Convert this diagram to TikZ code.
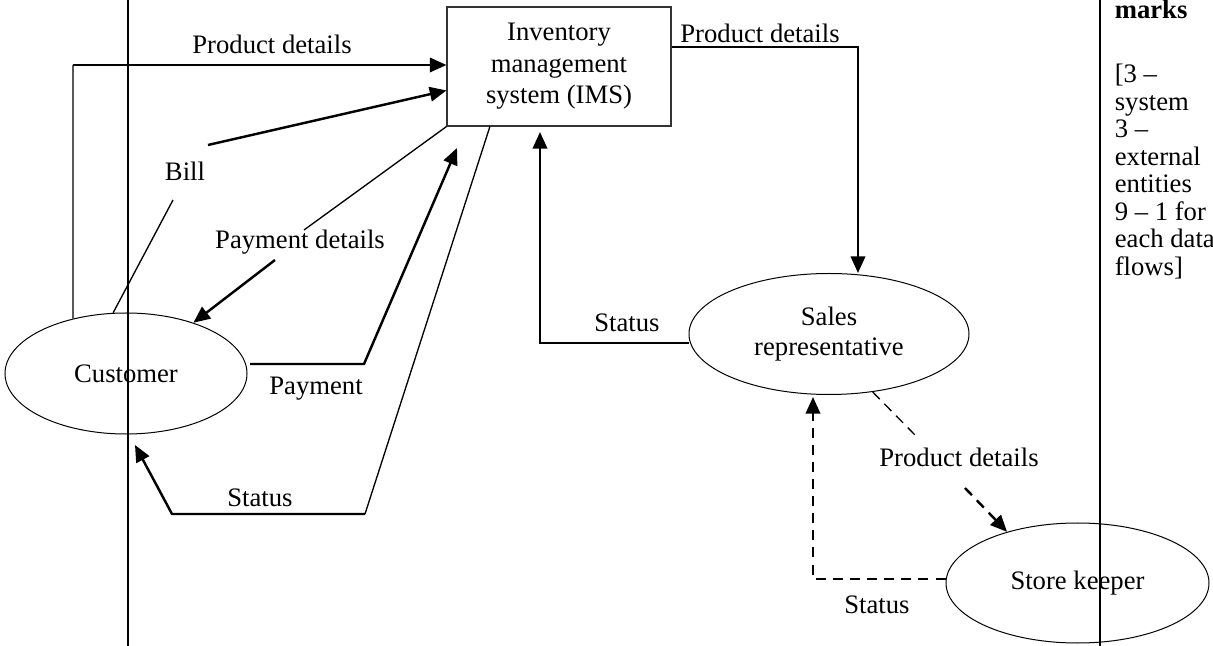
\documentclass[tikz,border=0pt]{standalone}
\usepackage{fontspec}
\setmainfont{Liberation Serif}
\usetikzlibrary{shapes,arrows.meta,positioning}

\begin{document}
\begin{tikzpicture}[x=0.45pt,y=-0.45pt]

  \tikzset{main node/.style={rectangle, draw=black!80, line width=0.5pt,
  		text centered, align=center, minimum width=100.8pt,
  		minimum height=53.55pt, inner sep=0pt}, }
  \tikzset{main ent/.style={ellipse, draw, line width=0.45pt, align=center,
  		inner sep=0pt, minimum height=54.45pt}, }
  \tikzset{linea/.style={line width=0.6pt}, }
  \tikzset{lineb/.style={line width=1.1pt, -{Triangle[length=7.5pt,width=6.5pt]}}, }
  \tikzset{dasha/.style={linea, dash pattern=on 4.5pt off 3pt}, }
  \tikzset{dashb/.style={lineb, dash pattern=on 4.5pt off 3.2pt}, }
  \tikzset{every node/.style={font=\fontsize{12}{14.2}\selectfont}, }

  \useasboundingbox (0,0) rectangle (1213,646);

    \node[main node] (ims) at (559,66.5) {Inventory\\management\\system (IMS)};
    \node[main ent, minimum width=108.9pt] (cust) at (126,373.5) {Customer};
    \node[main ent, minimum width=126pt, font=\fontsize{12}{13.5}\selectfont]
      (sales) at (829,334) {Sales\\representative};
    \node[main ent, minimum width=118.35pt, minimum height=54pt]
      (store) at (1077.5,583) {Store keeper};
%
    \node (l1) at (272,44) {Product details};
    \node (l2) at (185,171) {Bill};
    \node (l3) at (300,242) {Payment details};
    \node (l4) at (316,389) {Payment};
    \node (l5) at (260,498) {Status};
    \node (l6) at (760,33) {Product details};
    \node (l7) at (627,323) {Status};
    \node (l8) at (959,457) {Product details};
    \node (l9) at (877,605) {Status};
%
    \coordinate (c1) at (73,65);
    \coordinate (b1) at (173,200);
    \coordinate (b2) at (208,145);
    \coordinate (q1) at (304,230);
    \coordinate (q2) at (275,260);
    \coordinate (p0) at (250,364);
    \coordinate (p1) at (364,364);
    \coordinate (p2) at (457,148);
    \coordinate (s1) at (365,514);
    \coordinate (s2) at (172,514);
    \coordinate (s3) at (135,445);
    \coordinate (r1) at (858,47);
    \coordinate (r2) at (540,343);
    \coordinate (r3) at (540,132);
    \coordinate (d1) at (915,435);
    \coordinate (d2) at (965,488);
    \coordinate (e1) at (813,579);
    \coordinate (e2) at (813,397);
%
  \draw[linea] (cust.134) -- (c1);
  \draw[lineb] (c1) -- (ims.west |- c1);
  \draw[linea] (cust.102) -- (b1);
  \draw[lineb] (b2) -- (ims.192);
  \draw[linea] (ims.south west) -- (q1);
  \draw[lineb] (q2) -- (cust.37);
  \draw[lineb] (p0) -- (p1) -- (p2);
  \draw[linea] (ims.221) -- (s1);
  \draw[lineb] (s1) -- (s2) -- (s3);
  \draw[lineb] (ims.east |- r1) -- (r1) -- (r1 |- sales.north);
  \draw[lineb] (sales.west |- r2) -- (r2) -- (r3);
  \draw[dasha] (sales.307) -- (d1);
  \draw[dashb] (d2) -- (store.144);
  \draw[dashb] (store.west |- e1) -- (e1) -- (e2);
%
  \draw[line width=0.9pt] (128,0) -- (128,646);
  \draw[line width=0.9pt] (1100,0) -- (1100,646);
%
  \node[anchor=base west, font=\bfseries\fontsize{12}{12}\selectfont]
    (mk) at (1107,19) {marks};
  \foreach \w [count=\i] in {{[3 –},system,{3 –},external,entities,
      {9 – 1 for},{each data},{flows]}}
    \node[anchor=base west] (m\i) at (1107,55.5+27.5*\i) {\w};
%
\end{tikzpicture}
\end{document}
